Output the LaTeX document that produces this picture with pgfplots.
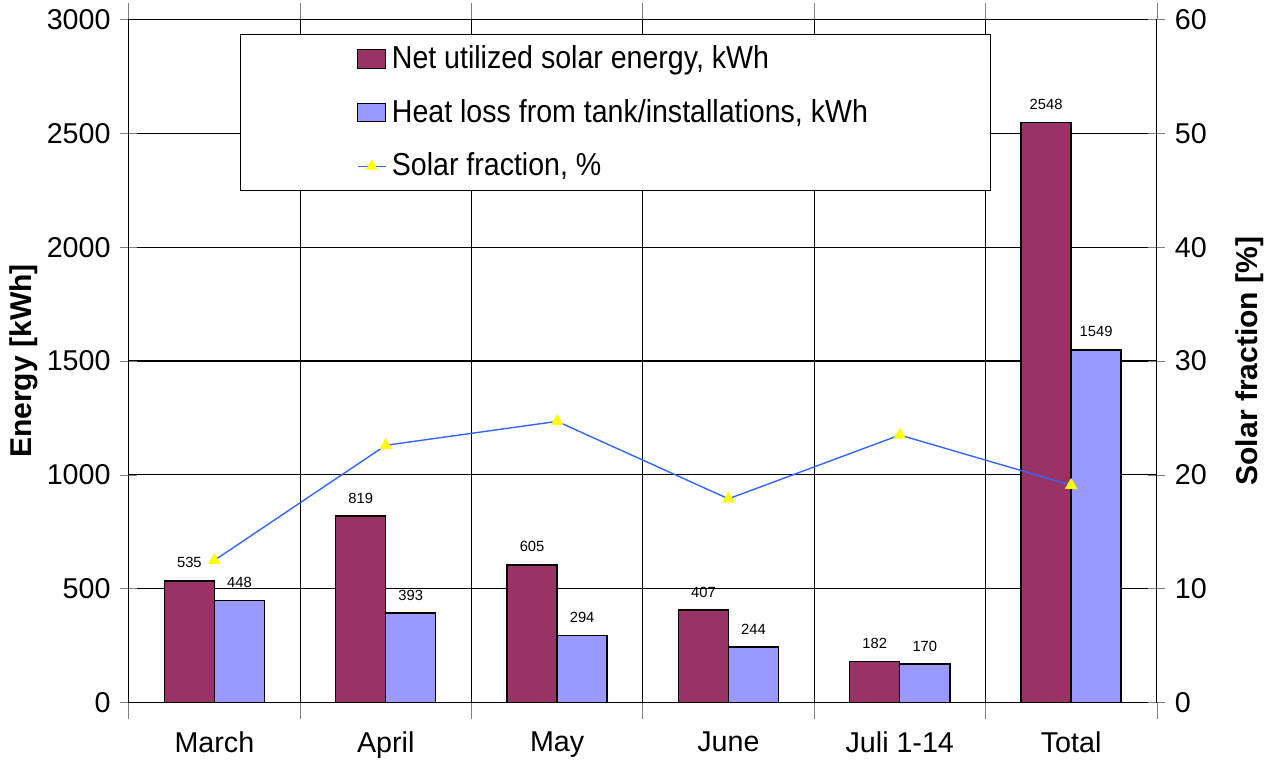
\documentclass[border=0pt]{standalone}
\usepackage{fontspec}
\setmainfont{Liberation Sans}
\newfontfamily\narrowfont[FakeStretch=0.9]{Liberation Sans}
\usepackage{pgfplots}
\pgfplotsset{compat=1.18}
\definecolor{netsolar}{HTML}{993366}
\definecolor{heatloss}{HTML}{9999FF}
\definecolor{fracline}{HTML}{3366FF}
\definecolor{fracmark}{HTML}{FFFF00}

\pgfplotsset{
  common/.style={
    width=369.4pt, height=245.5pt, scale only axis,
    xmin=-0.5, xmax=5.5,
    tick align=center, major tick length=6pt, minor tick length=6pt,
    /pgf/number format/assume math mode=true,
    /pgf/number format/1000 sep={},
    tick label style={font=\fontsize{10.3}{12}\selectfont},
    label style={font=\bfseries\fontsize{10.8}{13}\selectfont},
  }
}

\begin{document}
\begin{tikzpicture}
  % energy bars, left axis
  \begin{axis}[
    common,
    ymin=0, ymax=3000,
    ytick={0,500,...,3000},
    ytick pos=left,
    xtick={0,...,5},
    xticklabels={March, April, May, June, Juli 1-14, Total},
    major x tick style={draw=none},
    minor xtick={-0.5,0.5,...,5.5},
    xminorgrids, ymajorgrids,
    grid style={black, line width=0.4pt},
    minor grid style={black, line width=0.4pt},
    ylabel={Energy [kWh]},
    ylabel shift=-3.5pt,
    xticklabel shift=1pt,
    ybar=0pt, bar width=0.292,
    nodes near coords,
    every node near coord/.append style={font=\fontsize{5.3}{6}\selectfont, black, yshift=1pt},
  ]
    \addplot[fill=netsolar, draw=black, line width=0.5pt]
      coordinates {(0,535) (1,819) (2,605) (3,407) (4,182) (5,2548)};
    \addplot[fill=heatloss, draw=black, line width=0.5pt]
      coordinates {(0,448) (1,393) (2,294) (3,244) (4,170) (5,1549)};
  \end{axis}

  % solar fraction, right axis
  \begin{axis}[
    common,
    ymin=0, ymax=60,
    ytick={0,10,...,60},
    axis y line*=right, axis x line=none,
    ylabel={Solar fraction [\%]},
    ylabel shift=3.5pt,
    legend cell align=left,
    legend style={at={(0.108,0.979)}, anchor=north west, draw=black, fill=white,
      font=\narrowfont\fontsize{11.4}{13}\selectfont,
      inner xsep=42pt, inner ysep=2pt, row sep=5.5pt},
  ]
    \addlegendimage{legend image code/.code={\draw[fill=netsolar,draw=black] (0cm,-0.115cm) rectangle (0.35cm,0.115cm);}}
    \addlegendentry{Net utilized solar energy, kWh}
    \addlegendimage{legend image code/.code={\draw[fill=heatloss,draw=black] (0cm,-0.115cm) rectangle (0.35cm,0.115cm);}}
    \addlegendentry{Heat loss from tank/installations, kWh}
    \addplot[fracline, line width=0.5pt, mark=triangle*, mark size=2.1pt,
      mark options={fill=fracmark, draw=fracmark},
      legend image code/.code={
        \draw[fracline, line width=0.5pt] (0cm,0cm) -- (0.35cm,0cm);
        \draw[fracmark, fill=fracmark, mark=triangle*, mark size=2pt] plot coordinates {(0.175cm,0cm)};}]
      coordinates {(0,12.5) (1,22.6) (2,24.7) (3,17.9) (4,23.5) (5,19.1)};
    \addlegendentry{Solar fraction, \%}
  \end{axis}
\end{tikzpicture}
\end{document}
